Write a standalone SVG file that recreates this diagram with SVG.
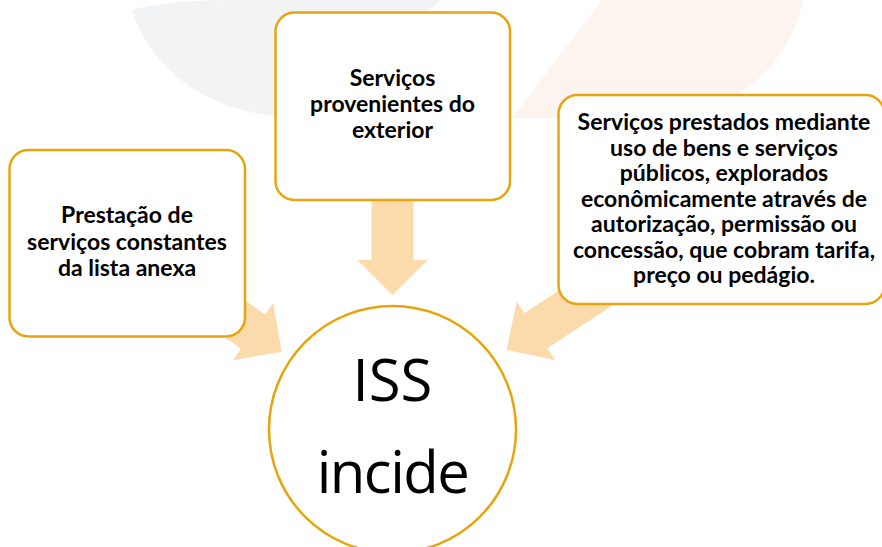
<svg xmlns="http://www.w3.org/2000/svg" width="882" height="547" viewBox="0 0 882 547">
  <style>
    .box { fill: #ffffff; stroke: #E6A50E; stroke-width: 2.5; }
    .lbl { font-family: "Lato", "Liberation Sans", sans-serif; font-weight: bold; font-size: 23px; fill: #000000; text-anchor: middle; }
    .big { font-family: "Open Sans", "Noto Sans", sans-serif; font-size: 58px; fill: #000000; text-anchor: middle; }
    .arrow { fill: #FBDAAB; }
  </style>
  <rect width="882" height="547" fill="#ffffff"/>
  <g id="watermark">
    <path d="M132,10 Q170,0 225,0 L442,0 L290,118 L300,118 C210,116 152,72 132,10 Z" fill="#F2F3F5"/>
    <path d="M602,0 L803,0 C795,40 770,75 737,95 L737,118 L512,118 Z" fill="#FDF4F0"/>
  </g>
  <g id="connectors">
    <polygon class="arrow" points="371.5,150 413.5,150 413.5,260 427.5,260 392.5,295 357.5,260 371.5,260"/>
    <polygon class="arrow" transform="translate(281.7,351.7) rotate(35)" points="0,0 -35,-35 -35,-21 -200,-21 -200,21 -35,21 -35,35"/>
    <polygon class="arrow" transform="translate(506.7,350) rotate(146.6)" points="0,0 -35,-35 -35,-21 -180,-21 -180,21 -35,21 -35,35"/>
  </g>
  <g id="node-lista">
    <rect class="box" x="9.5" y="150" width="235.5" height="186.5" rx="19"/>
    <text class="lbl" x="127" y="223">Prestação de</text>
    <text class="lbl" x="127" y="249.5">serviços constantes</text>
    <text class="lbl" x="127" y="276">da lista anexa</text>
  </g>
  <g id="node-exterior">
    <rect class="box" x="275.5" y="12.5" width="234.5" height="187.5" rx="19"/>
    <text class="lbl" x="392.5" y="86">Serviços</text>
    <text class="lbl" x="392.5" y="112">provenientes do</text>
    <text class="lbl" x="392.5" y="138">exterior</text>
  </g>
  <g id="node-publicos">
    <rect class="box" x="558.5" y="95" width="326" height="209" rx="19"/>
    <text class="lbl" x="724" y="130">Serviços prestados mediante</text>
    <text class="lbl" x="724" y="155.5">uso de bens e serviços</text>
    <text class="lbl" x="724" y="181">públicos, explorados</text>
    <text class="lbl" x="724" y="206.5">econômicamente através de</text>
    <text class="lbl" x="724" y="232">autorização, permissão ou</text>
    <text class="lbl" x="724" y="257.5">concessão, que cobram tarifa,</text>
    <text class="lbl" x="724" y="283">preço ou pedágio.</text>
  </g>
  <g id="node-iss">
    <circle cx="392.5" cy="429.5" r="123.5" fill="#ffffff" stroke="#E6A50E" stroke-width="2.5"/>
    <text class="big" x="392.5" y="401">ISS</text>
    <text class="big" x="392.5" y="493" letter-spacing="-1.5">incide</text>
  </g>
</svg>
